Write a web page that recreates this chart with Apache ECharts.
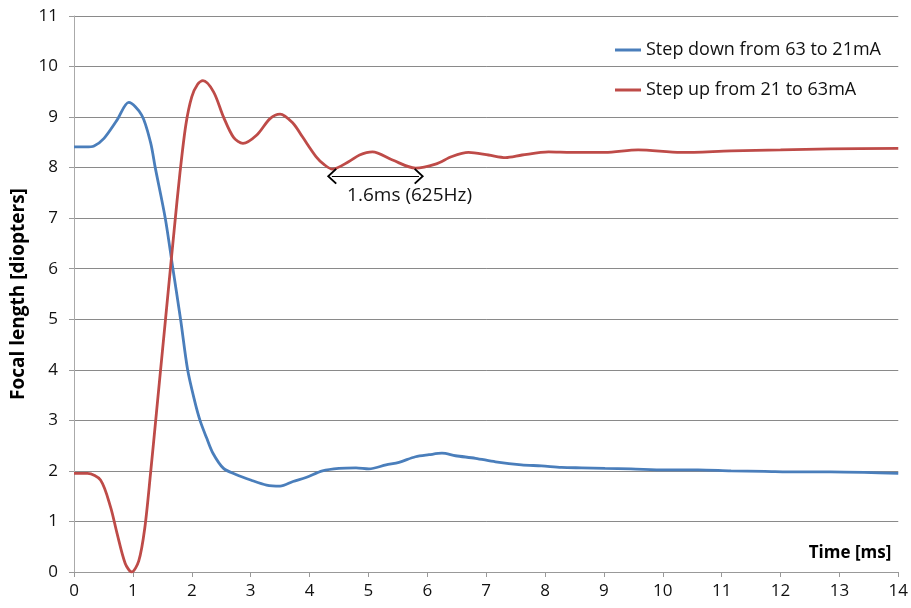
<!DOCTYPE html>
<html>
<head>
<meta charset="utf-8">
<script src="https://cdn.jsdelivr.net/npm/echarts@6/dist/echarts.min.js"></script>
<style>html,body{margin:0;padding:0;background:#fff}#c{width:911px;height:608px}</style>
</head>
<body>
<div id="c"></div>
<script>
var xTicks = [0,1,2,3,4,5,6,7,8,9,10,11,12,13,14];
var yTicks = [0,1,2,3,4,5,6,7,8,9,10,11];

var blueName = 'Step down from 63 to 21mA';
var blueT = [0,0.2,0.34,0.51,0.73,0.93,1.15,1.3,1.38,1.55,1.68,1.81,1.93,2.05,2.14,2.25,2.36,2.54,2.75,3.0,3.27,3.5,3.72,3.94,4.22,4.5,4.79,5.01,5.3,5.52,5.8,6.03,6.25,6.48,6.82,7.16,7.6,7.94,8.28,8.62,9.02,9.46,10.04,10.6,11.16,11.73,12.29,12.85,13.42,14];
var blueV = [8.41,8.41,8.43,8.58,8.94,9.29,9.04,8.5,8.0,7.0,6.0,5.0,4.0,3.38,3.0,2.66,2.35,2.05,1.93,1.82,1.72,1.70,1.79,1.87,2.0,2.05,2.06,2.04,2.12,2.17,2.28,2.32,2.35,2.30,2.25,2.18,2.12,2.10,2.07,2.06,2.05,2.04,2.02,2.02,2.0,1.99,1.98,1.98,1.97,1.95];

var redName = 'Step up from 21 to 63mA';
var redT = [0,0.23,0.45,0.62,0.73,0.87,0.98,1.1,1.2,1.3,1.4,1.5,1.6,1.7,1.8,1.9,2.0,2.1,2.19,2.37,2.54,2.71,2.87,3.1,3.33,3.5,3.72,3.88,4.11,4.25,4.39,4.67,4.85,5.07,5.41,5.8,6.14,6.42,6.7,7.04,7.33,7.61,8.06,8.45,9.02,9.58,10.31,11.16,12.0,12.85,14];
var redV = [1.95,1.95,1.82,1.29,0.77,0.17,0.0,0.22,0.85,1.95,3.15,4.35,5.55,6.75,7.9,8.85,9.4,9.65,9.72,9.5,9.0,8.6,8.48,8.64,8.97,9.06,8.88,8.61,8.22,8.06,7.97,8.12,8.25,8.31,8.15,7.99,8.07,8.22,8.30,8.25,8.20,8.25,8.31,8.30,8.30,8.35,8.30,8.33,8.35,8.37,8.38];

var periodStart = 4.38, periodEnd = 5.86, periodY = 7.83;
var periodText = '1.6ms (625Hz)';
var periodTextPos = [5.70, 7.44];

function pairs(t, v) { return t.map(function (x, i) { return [x, v[i]]; }); }

var FONT = '"Open Sans", Lato, sans-serif';
var chevron = 'path://M0,9 L9,0 L18,9 L16.6,10.4 L9,2.8 L1.4,10.4 Z';

var chart = echarts.init(document.getElementById('c'), null, {renderer: 'canvas'});
chart.setOption({
  animation: false,
  backgroundColor: '#fff',
  grid: {left: 74, right: 10, top: 16, bottom: 36, containLabel: false},
  legend: {
    orient: 'vertical', left: 610, top: 36,
    icon: 'rect', itemWidth: 26, itemHeight: 3, itemGap: 22,
    textStyle: {fontFamily: FONT, fontSize: 18, color: '#111'},
    data: [blueName, redName]
  },
  xAxis: {
    type: 'value', min: 0, max: 14, interval: 1,
    name: 'Time [ms]', nameLocation: 'end', nameGap: 0,
    nameTextStyle: {fontFamily: FONT, fontSize: 17, fontWeight: 'bold', color: '#000', align: 'right', verticalAlign: 'bottom', padding: [0, 7, 10, 0]},
    axisLine: {show: true, lineStyle: {color: '#999', width: 1}},
    axisTick: {show: true, length: 5, lineStyle: {color: '#999'}},
    axisLabel: {fontFamily: FONT, fontSize: 17, color: '#111', margin: 11,
      formatter: function (v) { return xTicks.indexOf(v) >= 0 ? String(v) : ''; }},
    splitLine: {show: false}
  },
  yAxis: {
    type: 'value', min: 0, max: 11, interval: 1,
    name: 'Focal length [diopters]', nameLocation: 'middle', nameGap: 44, nameRotate: 90,
    nameTextStyle: {fontFamily: FONT, fontSize: 19, fontWeight: 'bold', color: '#000'},
    axisLine: {show: true, lineStyle: {color: '#aaa', width: 1}},
    axisTick: {show: true, length: 5, lineStyle: {color: '#999'}},
    axisLabel: {fontFamily: FONT, fontSize: 17, color: '#111', margin: 16,
      formatter: function (v) { return yTicks.indexOf(v) >= 0 ? String(v) : ''; }},
    splitLine: {show: true, lineStyle: {color: '#8a8a8a', width: 1}}
  },
  series: [
    {
      name: blueName, type: 'line', data: pairs(blueT, blueV),
      smooth: 0.3, symbol: 'none', showSymbol: false,
      itemStyle: {color: '#4A7EBB'},
      lineStyle: {color: '#4A7EBB', width: 2.8}
    },
    {
      name: redName, type: 'line', data: pairs(redT, redV),
      smooth: 0.3, symbol: 'none', showSymbol: false,
      itemStyle: {color: '#BE4B48'},
      lineStyle: {color: '#BE4B48', width: 2.8},
      markLine: {
        silent: true, symbol: [chevron, chevron], symbolSize: [16, 10],
        lineStyle: {color: '#000', width: 1.2, type: 'solid'},
        label: {show: false},
        data: [[{coord: [periodStart, periodY]}, {coord: [periodEnd, periodY]}]]
      },
      markPoint: {
        silent: true, symbol: 'circle', symbolSize: 0,
        label: {show: true, position: 'inside', formatter: periodText, fontFamily: FONT, fontSize: 19, color: '#111'},
        data: [{coord: periodTextPos}]
      }
    }
  ]
});
</script>
</body>
</html>
